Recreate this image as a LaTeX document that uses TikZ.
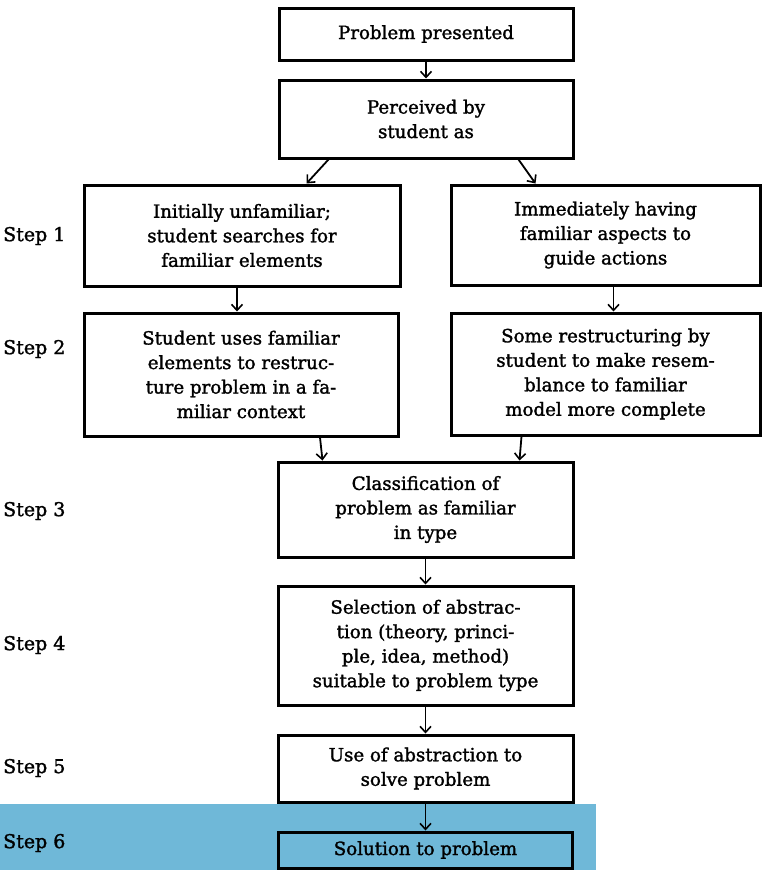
\documentclass[tikz,border=0pt]{standalone}
\usepackage{fontspec}
\setmainfont{DejaVu Serif}
\newfontfamily\boxfont{DejaVu Serif}[FakeBold=1.6]
\usetikzlibrary{arrows.meta}
\definecolor{bandblue}{RGB}{111,184,216}

\begin{document}
\begin{tikzpicture}[x=1pt,y=-1pt,
  box/.style={draw,line width=3pt,align=center,inner sep=0pt,
    font=\boxfont\fontsize{18.2}{24.5}\selectfont},
  steplabel/.style={anchor=west,inner sep=0pt,font=\boxfont\fontsize{19}{24.5}\selectfont},
  arr/.style={line width=1.8pt,-{Straight Barb[length=6pt,width=11pt,line width=1.6pt]}}]

\useasboundingbox (0,0) rectangle (761,870);
\fill[bandblue] (0,804) rectangle (596,870);

\node[box,minimum width=294,minimum height=52] (prob) at (426,34) {Problem presented};
\node[box,minimum width=294,minimum height=78] (perc) at (426,119) {Perceived by\\student as};

\node[box,minimum width=316,minimum height=101] (unf) at (242,235.5) {Initially unfamiliar;\\student searches for\\familiar elements};
\node[box,minimum width=309,minimum height=100] (imm) at (605.5,235) {Immediately having\\familiar aspects to\\guide actions};

\node[box,minimum width=314,minimum height=123] (uses) at (241,374.5) {Student uses familiar\\elements to restruc-\\ture problem in a fa-\\miliar context};
\node[box,minimum width=309,minimum height=122] (some) at (605.5,374) {Some restructuring by\\student to make resem-\\blance to familiar\\model more complete};

\node[box,minimum width=295,minimum height=95] (clas) at (425.5,509.5) {Classification of\\problem as familiar\\in type};
\node[box,minimum width=295,minimum height=119] (sel) at (425.5,645.5) {Selection of abstrac-\\tion (theory, princi-\\ple, idea, method)\\suitable to problem type};
\node[box,minimum width=295,minimum height=67] (use) at (425.5,768.5) {Use of abstraction to\\solve problem};
\node[box,minimum width=294,minimum height=36] (sol) at (425.5,850) {Solution to problem};

\node[steplabel] (s1) at (3,236) {Step 1};
\node[steplabel] (s2) at (3,349) {Step 2};
\node[steplabel] (s3) at (3,511) {Step 3};
\node[steplabel] (s4) at (3,645) {Step 4};
\node[steplabel] (s5) at (3,768) {Step 5};
\node[steplabel] (s6) at (3,843) {Step 6};

\draw[arr] (prob.south) -- (perc.north);
\draw[arr] ([xshift=51]perc.south west) -- ([xshift=224]unf.north west);
\draw[arr] ([xshift=-56]perc.south east) -- ([xshift=86]imm.north west);
\draw[arr] ([xshift=-5]unf.south) -- ([xshift=-4]uses.north);
\draw[arr] ([xshift=8]imm.south) -- ([xshift=8]some.north);
\draw[arr] ([xshift=79]uses.south) -- ([xshift=-103]clas.north);
\draw[arr] ([xshift=-84]some.south) -- ([xshift=94]clas.north);
\draw[arr] (clas.south) -- (sel.north);
\draw[arr] (sel.south) -- (use.north);
\draw[arr] (use.south) -- (sol.north);

\end{tikzpicture}
\end{document}
